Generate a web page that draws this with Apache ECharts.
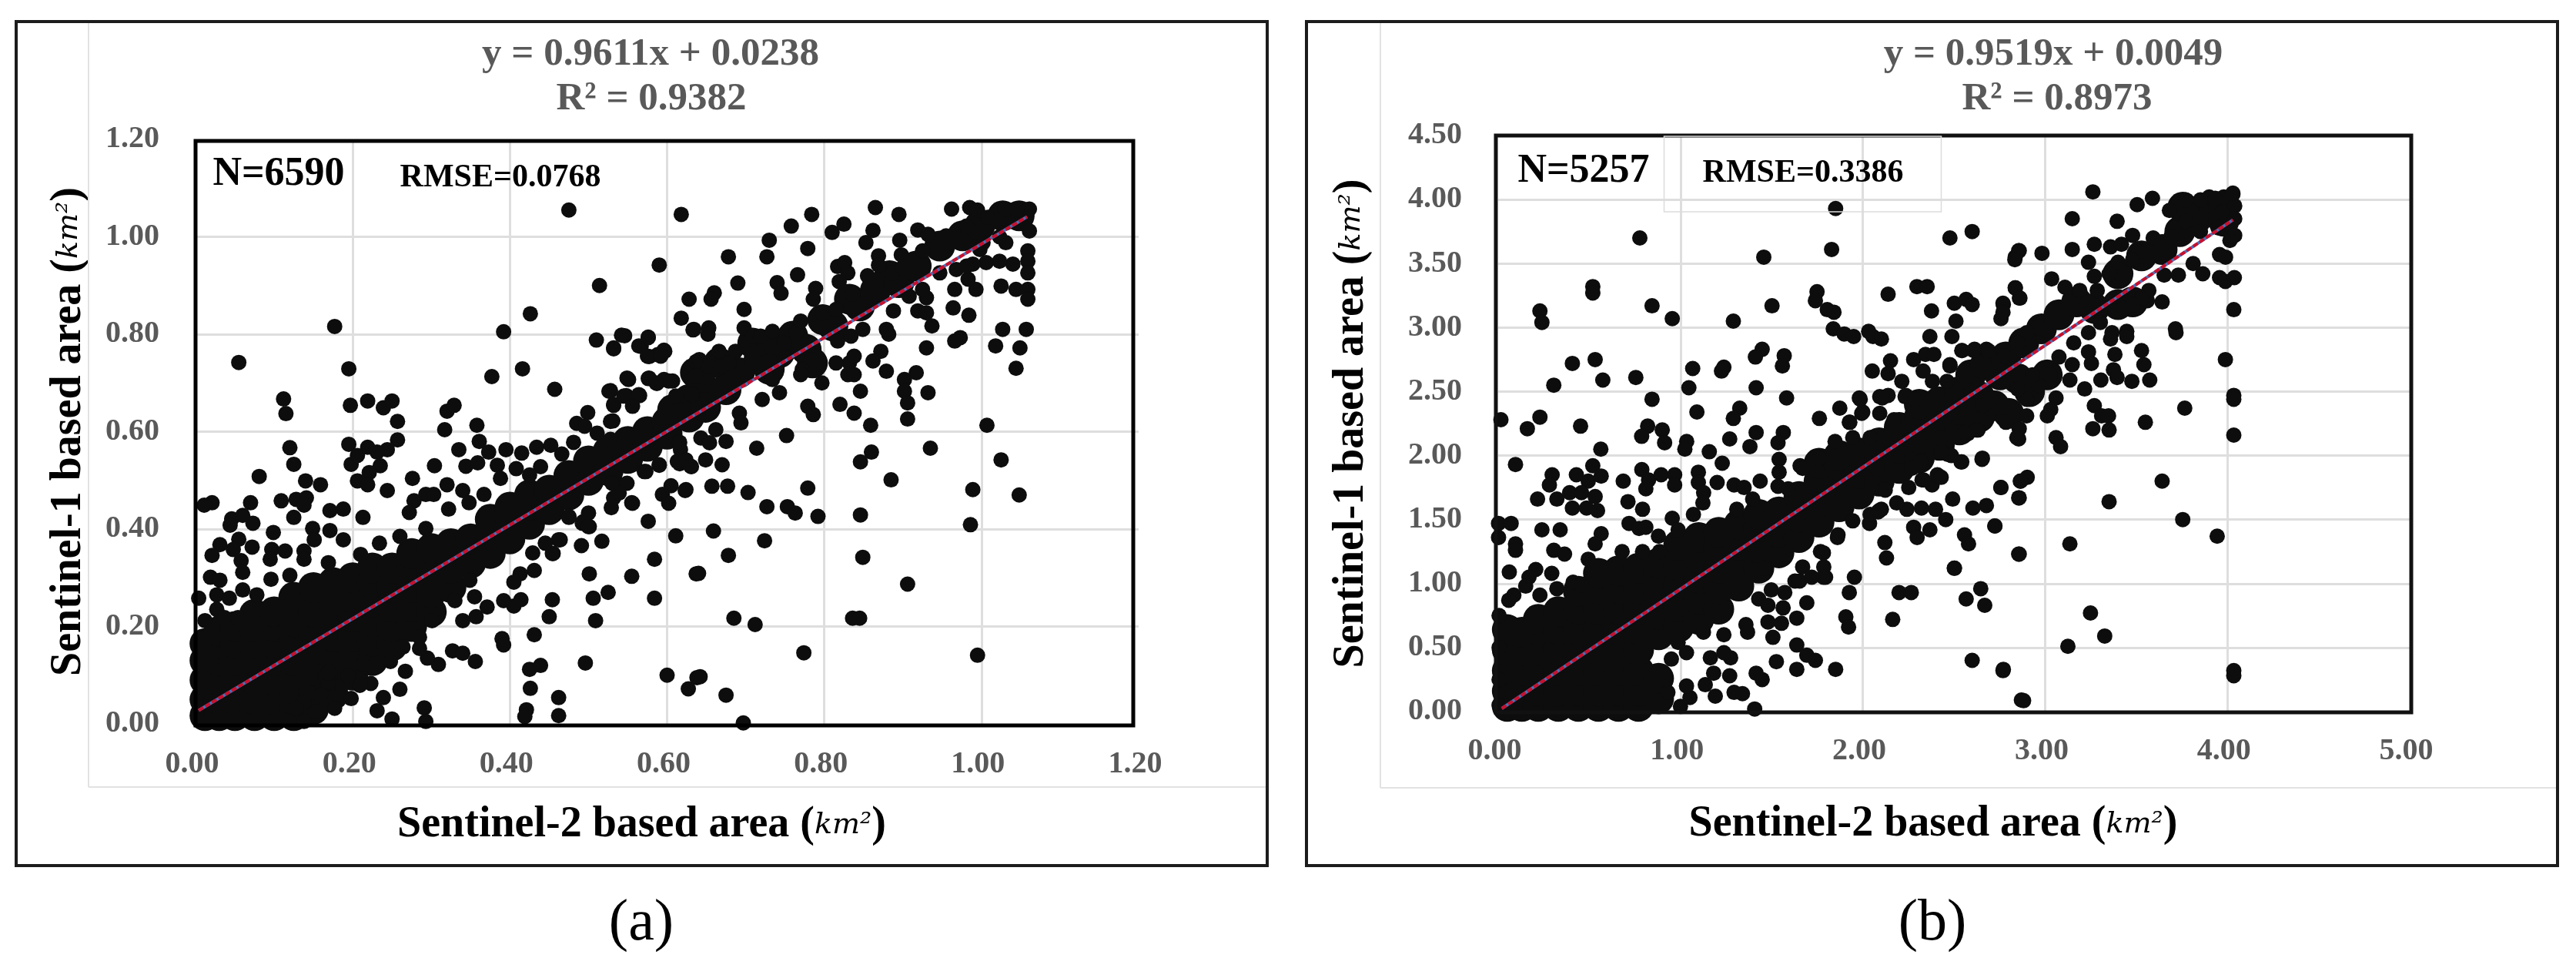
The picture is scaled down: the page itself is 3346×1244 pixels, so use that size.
<!DOCTYPE html>
<html><head><meta charset="utf-8">
<style>html,body{margin:0;padding:0;background:#fff}#c{width:3346px;height:1244px}</style>
<script src="https://cdn.jsdelivr.net/npm/echarts@6/dist/echarts.min.js"></script>
</head><body><div id="c"></div>
<script>
// Panel (a). Merged mass as columns [x,[y...]], separate dots as [x,y].
const coreColsA=[[.012,[.017,.05,.09,.13,.165]],[.03,[.017,.05,.09,.13,.165,.19]],[.05,[.017,.05,.09,.13,.165,.2]],[.075,[.017,.05,.09,.13,.165,.2,.225]],[.1,[.017,.05,.09,.13,.165,.2,.23]],[.125,[.017,.05,.09,.13,.17,.21,.26]],[.15,[.03,.07,.11,.15,.19,.23,.28]],[.175,[.06,.1,.14,.18,.22,.26,.29]],[.2,[.1,.14,.18,.22,.26,.3]],[.225,[.13,.17,.21,.25,.29,.32]],[.25,[.16,.2,.24,.28,.32]],[.275,[.2,.24,.28,.32,.35]],[.3,[.23,.27,.31,.36]],[.325,[.28,.32,.37]],[.35,[.33,.38]],[.375,[.35,.39,.42]],[.4,[.38,.42,.445]],[.425,[.41,.45,.47]],[.45,[.44,.48]],[.475,[.47,.51]],[.5,[.5,.54]],[.525,[.52,.56]],[.55,[.545,.58]],[.575,[.57,.6]],[.6,[.595,.62]],[.607,[.645]],[.628,[.666,.63]],[.649,[.686,.65]],[.636,[.721]],[.666,[.741]],[.675,[.686]],[.692,[.721]],[.709,[.782]],[.717,[.748]],[.734,[.782]],[.743,[.762]],[.73,[.728]],[.76,[.796]],[.777,[.769]],[.785,[.741]],[.798,[.83]],[.811,[.817]],[.832,[.872]],[.845,[.858]],[.865,[.89]],[.883,[.92]],[.895,[.906]],[.917,[.94]],[.947,[.981]],[.976,[1.002]],[.998,[1.023]],[1.027,[1.043]],[1.048,[1.043]]];
const dotsA=[[.055,.742],[.177,.816],[.195,.729],[.112,.667],[.115,.637],[.197,.654],[.219,.663],[.239,.649],[.25,.663],[.257,.621],[.257,.583],[.317,.604],[.32,.642],[.329,.654],[.358,.613],[.361,.58],[.335,.563],[.304,.53],[.276,.504],[.244,.479],[.244,.563],[.195,.574],[.219,.568],[.231,.558],[.198,.533],[.206,.551],[.235,.53],[.221,.516],[.206,.499],[.219,.491],[.12,.567],[.125,.533],[.081,.508],[.14,.499],[.159,.491],[.07,.454],[.109,.458],[.128,.461],[.141,.464],[.138,.449],[.125,.424],[.171,.438],[.188,.441],[.213,.424],[.021,.454],[.011,.449],[.046,.421],[.06,.428],[.073,.412],[.044,.408],[.099,.393],[.149,.401],[.171,.397],[.151,.378],[.188,.378],[.055,.379],[.031,.368],[.072,.363],[.048,.358],[.021,.346],[.097,.358],[.114,.355],[.138,.355],[.058,.335],[.06,.311],[.095,.338],[.019,.301],[.031,.295],[.096,.297],[.06,.275],[.004,.258],[.027,.265],[.043,.258],[.027,.235],[.037,.218],
[.426,.842],[.392,.805],[.514,.9],[.59,.942],[.628,.872],[.618,.833],[.633,.809],[.377,.713],[.416,.729],[.457,.687],[.51,.788],[.546,.797],[.532,.77],[.576,.794],[.567,.775],[.596,.767],[.577,.754],[.588,.758],[.637,.744],[.576,.709],[.587,.699],[.602,.704],[.551,.707],[.528,.684],[.548,.674],[.565,.674],[.532,.654],[.499,.639],[.485,.617],[.531,.622],[.631,.707],
[.373,.558],[.395,.563],[.415,.556],[.434,.568],[.452,.572],[.481,.578],[.344,.529],[.359,.536],[.384,.531],[.408,.524],[.32,.491],[.34,.479],[.293,.471],[.303,.471],[.278,.458],[.272,.434],[.367,.471],[.348,.454],[.322,.441],[.388,.504],[.439,.528],[.425,.511],[.466,.554],[.511,.597],[.528,.584],[.495,.611],[.293,.401],[.26,.385],[.234,.371],[.21,.348],[.169,.331],[.12,.305],[.138,.338],[.078,.265],[.054,.218],[.012,.212],
[.301,.212],[.33,.253],[.34,.212],[.357,.22],[.371,.24],[.392,.253],[.405,.242],[.414,.255],[.454,.255],[.45,.22],[.506,.258],[.525,.27],[.509,.212],[.501,.308],[.555,.303],[.584,.338],[.584,.258],[.637,.308],[.517,.375],[.491,.366],[.611,.386],[.576,.416],[.529,.444],[.555,.454],[.623,.479],[.594,.471],[.602,.453],[.605,.489],[.501,.405],[.493,.415],[.475,.424],[.464,.378],[.455,.35],[.429,.351],[.431,.315],[.413,.308],[.405,.291],[.355,.261],[.349,.295],[.54,.491],[.532,.464],[.571,.518],[.59,.531],[.616,.534],[.631,.528],[.616,.578],
[.39,.175],[.392,.162],[.431,.183],[.327,.15],[.34,.145],[.356,.128],[.309,.122],[.295,.135],[.285,.155],[.425,.112],[.439,.12],[.496,.125],[.426,.073],[.462,.054],[.462,.017],[.421,.029],[.419,.015],[.6,.1],[.627,.072],[.638,.095],[.267,.108],[.26,.071],[.239,.054],[.231,.027],[.291,.033],[.293,.005],[.25,.01],[.223,.083],[.248,.128],[.209,.079],[.186,.079],[.169,.085],[.198,.052],[.177,.032],[.153,.025],[.138,.045],[.138,.005],[.159,.059],[.128,.032],[.285,.178],[.264,.158],[.214,.122],[.194,.098],[.169,.105],
[.475,1.055],[.618,1.046],[.678,.959],[.727,.959],[.73,.993],[.758,1.022],[.784,1.046],[.81,1.009],[.825,1.026],[.779,.976],[.766,.922],[.69,.905],[.74,.906],[.745,.884],[.789,.894],[.786,.872],[.66,.885],[.656,.872],[.698,.851],[.634,.81],[.653,.813],[.652,.8],[.698,.813],[.542,.798],[.532,.772],[.564,.776],[.576,.793],[.575,.755],[.597,.765],[.592,.755],[.817,.939],[.826,.947],[.83,.926],[.819,.908],[.865,1.06],[.895,1.046],[.862,1.013],[.853,.988],[.896,.993],[.919,1.014],[.932,1.005],[.869,.961],[.869,.942],[.898,.963],[.962,1.057],[.985,1.06],[.925,.971],[.855,.92],[1.061,1.057],[1.061,1.012],[1.03,1.057],[1.045,1.057],[.981,1.022],[.995,1.055],
[1.059,.971],[1.059,.95],[1.059,.926],[1.04,.944],[1.023,.95],[1.006,.947],[.989,.944],[.993,.892],[1.025,.899],[.966,.892],[.983,.913],[1.044,.892],[1.059,.892],[1.059,.872],[.964,.854],[.984,.839],[.937,.817],[.93,.875],[.908,.878],[.919,.848],[.93,.844],[.888,.848],[.882,.8],[.879,.81],[1.027,.81],[1.057,.81],[1.018,.776],[1.049,.772],[1.044,.73],[.973,.793],[.966,.786],[.93,.772],[.872,.765],[.917,.721],[.902,.707],[.902,.683],[.906,.659],[.906,.626],[.932,.68],[.879,.724],[.862,.745],[.846,.683],[.83,.717],[.838,.717],[.832,.741],[.815,.741],[.838,.755],[.817,.786],[.834,.796],[.849,.81],[.797,.7],[.779,.652],[.786,.635],[.82,.656],[.838,.638],[.859,.613],[1.007,.613],[.752,.592],[.714,.566],[.675,.58],[.935,.566],[1.025,.542],[.86,.558],[.846,.538],[.885,.501],[.779,.484],[.989,.481],[1.048,.47],[.703,.475],[.677,.488],[.657,.488],[.624,.481],[.556,.453],[.727,.446],[.753,.446],[.763,.433],[.792,.426],[.846,.429],[.986,.409],[.659,.396],[.724,.376],[.678,.346],[.849,.342],[.64,.309],[.906,.287],[.685,.217],[.712,.204],[.836,.217],[.845,.217],[.774,.146],[.995,.141],[.642,.097],[.675,.059],[.697,.002],
[.526,.683],[.532,.656],[.528,.621],[.549,.71],[.545,.673],[.564,.676],[.556,.652],[.577,.71],[.596,.707],[.607,.704],[.586,.7],[.611,.673],[.632,.676],[.636,.714],[.641,.748],[.666,.765],[.687,.765],[.653,.734],[.668,.734],[.679,.741],[.709,.796],[.719,.796],[.734,.806],[.749,.782],[.764,.803],[.77,.827],[.798,.844],[.815,.851],[.836,.882],[.887,.926],[.9,.937],[.955,1.002],[1.008,1.04],
[.734,.707],[.743,.68],[.721,.666],[.692,.638],[.694,.618],[.662,.604],[.643,.587],[.654,.577],[.617,.563],[.624,.542],[.649,.542],[.67,.532],[.63,.529],[.613,.539],[.59,.532],[.573,.518],[.549,.494],[.539,.474],[.53,.494],[.5,.433],[.492,.412],[.475,.426],[.5,.405],[.462,.378],[.454,.35],[.445,.371],[.772,.728],[.785,.748],[.77,.717],[.968,.933],[.981,.94],[.998,.974],[1.031,.988],[1.023,1],[1.002,.988],[.947,.926],[.925,.892]];
const trendA=[[.004,.0278],[1.058,1.041]];
// Panel (b)
const coreColsB=[[.05,[.04,.16,.32,.48,.64]],[.13,[.04,.16,.32,.48,.62]],[.22,[.04,.16,.32,.48,.64,.72]],[.33,[.04,.16,.32,.48,.64,.78]],[.44,[.04,.16,.32,.48,.64,.8,.94]],[.55,[.04,.16,.32,.48,.64,.8,.96,1.08]],[.66,[.04,.16,.32,.48,.64,.8,.96,1.1]],[.77,[.04,.16,.32,.48,.64,.8,.96,1.12]],[.88,[.1,.26,.6,.76,.92,1.08,1.16]],[.99,[.66,.82,.98,1.14,1.3]],[1.1,[.72,.88,1.04,1.2,1.36]],[1.21,[.8,.96,1.12,1.28,1.4]],[1.32,[.98,1.14,1.3,1.46]],[1.43,[1.12,1.28,1.44,1.54]],[1.54,[1.24,1.4,1.56]],[1.65,[1.36,1.52,1.68]],[1.76,[1.48,1.64,1.8,1.94]],[1.87,[1.6,1.76,1.92,2]],[1.98,[1.7,1.86,2.02]],[2.09,[1.8,1.96,2.1]],[2.2,[1.9,2.06,2.22]],[2.31,[1.98,2.14,2.3,2.4]],[2.42,[2.08,2.24,2.42]],[2.53,[2.2,2.36,2.5]],[2.592,[2.63]],[2.64,[2.3,2.46]],[2.672,[2.71]],[2.72,[2.39]],[2.753,[2.63]],[2.8,[2.33]],[2.85,[2.6]],[2.915,[2.5]],[3.012,[2.63]],[2.785,[2.77]],[2.883,[2.88]],[2.98,[2.99]],[3.076,[3.1]],[3.173,[3.2]],[3.27,[3.15]],[3.4,[3.18,3.42]],[3.48,[3.2]],[3.529,[3.56]],[3.642,[3.61]],[3.739,[3.75]],[3.836,[3.86]],[3.933,[3.94]],[3.98,[3.94,3.83]],[3.755,[3.94]]];
const dotsB=[[1.851,3.93],[.777,3.7],[1.457,3.55],[1.829,3.61],[2.478,3.7],[2.6,3.75],[2.836,3.55],[2.855,3.6],[.519,3.32],[.519,3.27],[.229,3.13],[.24,3.04],[.844,3.17],[.955,3.07],[1.29,3.05],[1.502,3.17],[1.749,3.28],[1.74,3.21],[1.805,3.14],[1.842,3.12],[1.838,2.99],[1.898,2.95],[1.95,2.93],[2.032,2.97],[2.056,2.93],[2.102,2.91],[2.139,3.26],[2.297,3.32],[2.353,3.32],[2.377,3.13],[2.502,3.19],[2.567,3.22],[2.6,3.18],[2.511,3.05],[2.771,3.18],[2.758,3.07],[2.836,3.31],[2.859,3.23],[2.368,2.93],[2.489,2.93],[2.545,2.82],[2.613,2.83],[2.678,2.83],[.407,2.72],[.532,2.75],[.305,2.55],[.574,2.59],[.755,2.61],[.844,2.44],[1.067,2.68],[1.046,2.53],[1.238,2.69],[1.225,2.66],[1.448,2.83],[1.411,2.77],[1.569,2.78],[1.559,2.7],[1.415,2.53],[1.582,2.45],[2.152,2.74],[2.279,2.75],[2.344,2.79],[2.39,2.79],[2.052,2.66],[2.139,2.64],[2.214,2.58],[2.331,2.66],[2.478,2.71],[.015,2.28],[.229,2.3],[.16,2.21],[.452,2.23],[1.09,2.34],[1.325,2.37],[1.29,2.29],[.82,2.23],[.787,2.15],[.9,2.2],[.913,2.1],[1.034,2.11],[1.024,2.05],[1.158,2.03],[1.27,2.13],[1.415,2.18],[1.381,2.07],[1.564,2.18],[1.535,2.1],[1.762,2.29],[1.874,2.37],[1.926,2.26],[1.981,2.45],[2,2.34],[2.093,2.46],[2.139,2.47],[2.232,2.46],[2.093,2.33],[.563,2.05],[.095,1.93],[.296,1.85],[.281,1.77],[.519,1.92],[.429,1.85],[.494,1.8],[.565,1.84],[.686,1.8],[.788,1.89],[.825,1.81],[.81,1.74],[.894,1.85],[.968,1.85],[.968,1.77],[1.098,1.87],[1.098,1.79],[1.127,1.71],[1.201,1.79],[1.229,1.94],[1.123,1.63],[1.294,1.77],[1.349,1.75],[1.396,1.66],[1.437,1.8],[1.541,1.97],[1.541,1.87],[1.656,1.92],[1.535,1.76],[1.591,1.74],[.216,1.66],[.322,1.66],[.392,1.71],[.457,1.71],[.532,1.68],[.407,1.59],[.485,1.59],[.545,1.57],[.712,1.64],[.792,1.58],[1.309,1.58],[1.071,1.54],[.955,1.51],[.718,1.47],[.773,1.43],[.81,1.44],[.002,1.47],[.071,1.47],[.002,1.36],[.24,1.42],[.34,1.42],[.095,1.31],[.095,1.26],[.565,1.39],[.532,1.31],[.879,1.37],[.987,1.42],[.305,1.26],[.364,1.23],[.494,1.19],[.68,1.25],[.792,1.25],[.885,1.25],[.061,1.09],[.206,1.11],[.169,1.05],[.294,1.08],[.322,.96],[.411,1.01],[.457,.99],[.229,.91],[.086,.91],[.058,.87],[.151,.98],[.005,.75],[.005,.5],[.005,.25],[.005,.05],
[2.654,1.97],[2.757,1.75],[2.864,1.8],[2.855,1.67],[2.604,1.59],[2.678,1.61],[2.493,1.66],[2.725,1.45],[2.455,1.5],[2.399,1.58],[2.322,1.59],[2.242,1.58],[2.186,1.63],[2.279,1.44],[2.298,1.36],[2.368,1.42],[2.558,1.38],[2.58,1.31],[2.121,1.32],[2.13,1.2],[2.502,1.12],[2.855,1.23],[1.954,1.05],[1.926,.93],[2.199,.93],[2.266,.93],[2.647,.96],[2.567,.88],[2.669,.83],[2.164,.72],[1.907,.74],[1.922,.66],[1.693,.85],[1.638,.73],[1.638,.52],[1.693,.44],[1.74,.4],[1.526,.39],[1.638,.33],[1.851,.33],[2.6,.4],[2.771,.33],[2.87,.09],[1.407,.02],[1.415,.3],[1.448,.25],[1.34,.14],[1.294,.15],[1.191,.12],[1.27,.28],[1.275,.42],[1,.04],[1.052,.11],[.931,.15],
[2.11,1.74],[2.325,1.81],[2.38,1.77],[2.409,1.85],[2.539,1.95],[2.465,2.01],[2.576,2.17],[2.632,2.2],[2.855,2.13],[2.102,1.58],[2.037,1.47],[2.084,1.56],[1.861,1.36],[1.796,1.05],[1.786,1.13],[1.768,1.25],[1.628,1.02],[1.461,1.12],[1.498,.95],[1.572,.93],[1.429,.88],[1.48,.83],[1.563,.81],[1.554,.69],[1.48,.7],[1.507,.58],[1.359,.68],[1.368,.62],[1.126,.62],[1.238,.6],[1.033,.46],[1.164,.42],[1.182,.3],[1.136,.21],[1.033,.2],[.987,.54],[.95,.41],[1.238,.46],
[3.262,4.06],[3.505,3.96],[3.589,4.01],[3.149,3.85],[3.149,3.61],[3.27,3.65],[3.395,3.83],[3.359,3.63],[3.419,3.65],[3.238,3.51],[2.983,3.58],[2.858,3.6],[2.834,3.53],[3.036,3.38],[2.837,3.31],[2.862,3.23],[2.769,3.19],[2.769,3.12],[4.04,3.72],[4.014,3.68],[3.957,3.57],[3.99,3.55],[3.865,3.42],[3.812,3.5],[3.731,3.41],[3.653,3.41],[3.957,3.39],[3.989,3.36],[4.038,3.39],[4.035,3.14],[3.642,3.2],[3.561,3.21],[3.715,2.99],[3.718,2.96],[3.448,2.97],[3.448,2.93],[3.367,2.96],[3.359,2.91],[3.238,2.81],[3.383,2.79],[3.529,2.82],[3.542,2.71],[3.989,2.75],[3.254,2.72],[3.149,2.71],[3.375,2.67],[3.395,2.61],[3.476,2.58],[3.574,2.59],[3.306,2.59],[3.217,2.52],[3.136,2.59],[3.06,2.45],[4.035,2.47],[4.035,2.44],[3.766,2.37],[3.27,2.39],[3.31,2.31],[3.348,2.31],[3.262,2.21],[3.351,2.2],[3.55,2.26],[4.035,2.16],[3.031,2.36],[3.012,2.31],[2.899,2.31],[2.858,2.21],[2.845,2.14],[3.06,2.14],[3.085,2.07],[2.785,2.26],[2.656,1.98],[3.642,1.8],[3.351,1.64],[2.902,1.83],[2.866,1.8],[2.758,1.75],[2.858,1.67],[3.755,1.5],[3.944,1.37],[2.724,1.45],[3.136,1.31],[2.858,1.23],[2.503,1.12],[3.249,.77],[3.327,.59],[3.125,.51],[2.769,.32],[2.882,.085],[4.035,.32],[4.035,.28],[4.03,4.04],[3.98,4.02],[3.9,4.02],[4.04,3.95],[4.04,3.85],
[3.682,3.915],[3.771,3.997],[3.852,3.997],[3.933,4.01],[4.03,4.05],[3.707,3.78],[3.771,3.83],[3.48,3.72],[3.513,3.59],[3.48,3.53],[3.593,3.7],[3.69,3.71],[3.852,3.75],[3.949,3.78],[3.4,3.51],[3.351,3.42],[3.27,3.4],[3.286,3.29],[3.109,3.315],[3.19,3.29],[2.963,3],[2.899,2.96],[2.85,2.88],[2.778,2.78],[2.689,2.82],[2.608,2.82],[2.543,2.82],[2.478,2.7],[2.382,2.58],[2.462,2.58],[2.236,2.47],[2.285,2.44],[2.107,2.45],[1.986,2.44],[2.171,2.28],[1.994,2.33],[1.929,2.26],[1.848,2.11],[1.76,1.98],[1.67,1.9],[2.04,2.14],[1.945,2.14],
[3.569,3.29],[3.529,3.23],[3.432,3.15],[3.48,3.18],[3.303,3.04],[3.238,2.96],[3.157,2.88],[3.076,2.77],[3.028,2.63],[2.963,2.55],[2.899,2.44],[2.85,2.52],[2.931,2.63],[2.705,2.36],[2.656,2.39],[2.624,2.2],[2.559,2.18],[2.503,2.33],[2.43,2.14],[2.543,1.95],[2.486,2],[2.43,2.03],[2.317,1.95],[2.268,1.9],[2.333,1.81],[2.43,1.83],[2.123,1.73],[2.252,1.75],[2.04,1.54],[2.09,1.57],[1.945,1.49],[1.864,1.38],[1.784,1.24],[1.784,1.05],[1.67,1.13],[1.72,1.05],[1.654,1.02]];
const trendB=[[.02,.024],[4.03,3.841]];

const SERIF='"Liberation Serif","Times New Roman",serif';
const GREY='#595959', DOT='#0d0d0d';
const expand=c=>c.flatMap(([x,ys])=>ys.map(y=>[x,y]));
const title=(s)=>`{b|${s} based area (}{k|km²}{b|)}`;
const rich={b:{fontFamily:SERIF,fontWeight:'bold',fontSize:56,color:'#000'},k:{fontFamily:'"DejaVu Serif",serif',fontStyle:'italic',fontWeight:'normal',fontSize:38,color:'#000'}};
const xAxis=(i,max,step,gap,pad,mar)=>({gridIndex:i,type:'value',min:0,max,interval:step,
  axisLine:{show:false},axisTick:{show:false},
  splitLine:{show:true,showMinLine:false,showMaxLine:false,lineStyle:{color:'#dedede',width:3}},
  axisLabel:{margin:mar,padding:[0,9,0,0],color:GREY,fontFamily:SERIF,fontWeight:'bold',fontSize:40,formatter:v=>v.toFixed(2),showMaxLabel:true,showMinLabel:true,hideOverlap:false},
  name:title('Sentinel-2'),nameLocation:'middle',nameGap:gap,nameTextStyle:{rich,padding:[0,pad,0,0]}});
const yAxis=(i,max,step,gap)=>({gridIndex:i,type:'value',min:0,max,interval:step,
  axisLine:{show:false},axisTick:{show:false},
  splitLine:{show:true,showMinLine:false,showMaxLine:false,lineStyle:{color:'#dedede',width:3}},
  axisLabel:{margin:47,color:GREY,fontFamily:SERIF,fontWeight:'bold',fontSize:40,formatter:v=>v.toFixed(2),showMaxLabel:true,showMinLabel:true},
  name:title('Sentinel-1'),nameLocation:'middle',nameGap:gap,nameRotate:90,nameTextStyle:{rich}});
const marks=(i,core,dots,trend)=>[
  {type:'scatter',name:'merged points',xAxisIndex:i,yAxisIndex:i,data:expand(core),symbolSize:40,clip:false,silent:true,itemStyle:{color:DOT,opacity:1},z:3},
  {type:'scatter',name:'points',xAxisIndex:i,yAxisIndex:i,data:dots,symbolSize:20,clip:false,silent:true,itemStyle:{color:DOT,opacity:1},z:3},
  {type:'line',name:'trend base',xAxisIndex:i,yAxisIndex:i,data:trend,showSymbol:false,silent:true,lineStyle:{color:'#4a6fb5',width:4},z:4},
  {type:'line',name:'trend',xAxisIndex:i,yAxisIndex:i,data:trend,showSymbol:false,silent:true,lineStyle:{color:'#c8102e',width:4,type:[7,3]},z:5}
];
const txt=(x,y,s,size,fill,w,align)=>({type:'text',x,y,z:20,style:{text:s,fontFamily:SERIF,fontSize:size,fontWeight:w||'bold',fill,textAlign:align||'center',textVerticalAlign:'middle'}});
const frame=(x,y,w,h,stroke,lw,z)=>({type:'rect',z:z||1,shape:{x,y,width:w,height:h},style:{fill:null,stroke,lineWidth:lw}});
const seg=(x1,y1,x2,y2)=>({type:'line',z:1,shape:{x1,y1,x2,y2},style:{stroke:'#e2e2e2',lineWidth:2}});

const chart=echarts.init(document.getElementById('c'),null,{renderer:'canvas'});
chart.setOption({animation:false,backgroundColor:'#fff',
  grid:[{left:254,top:181,width:1225,height:759,containLabel:false},{left:1946,top:176,width:1184,height:748,containLabel:false}],
  xAxis:[xAxis(0,1.2,.2,104,66,33),xAxis(1,5,1,119,54,32)],
  yAxis:[yAxis(0,1.2,.2,136),yAxis(1,4.5,.5,162)],
  series:[...marks(0,coreColsA,dotsA,trendA),...marks(1,coreColsB,dotsB,trendB)],
  graphic:{elements:[
    frame(21,28,1625,1096,'#1c1c1c',4),frame(1697,28,1625,1096,'#1c1c1c',4),
    seg(115,30,115,1022),seg(115,1022,1644,1022),seg(1793,30,1793,1023),seg(1793,1023,3320,1023),
    frame(254,183,1218,759,'#000',5,10),frame(1943,176,1189,749,'#111',5,10),
    frame(2161.5,177,360,98,'#dcdcdc',1.5,11),
    txt(845,71,'y = 0.9611x + 0.0238',51,GREY),txt(846,129,'R² = 0.9382',51,GREY),
    txt(2667,71,'y = 0.9519x + 0.0049',51,GREY),txt(2672,129,'R² = 0.8973',51,GREY),
    txt(362,227,'N=6590',52,'#000'),txt(650,231,'RMSE=0.0768',42,'#000'),
    txt(2057,223,'N=5257',52,'#000'),txt(2342,225,'RMSE=0.3386',42,'#000'),
    txt(833,1200,'(a)',76,'#000','normal'),txt(2510,1200,'(b)',76,'#000','normal')
  ]}
});
</script></body></html>
